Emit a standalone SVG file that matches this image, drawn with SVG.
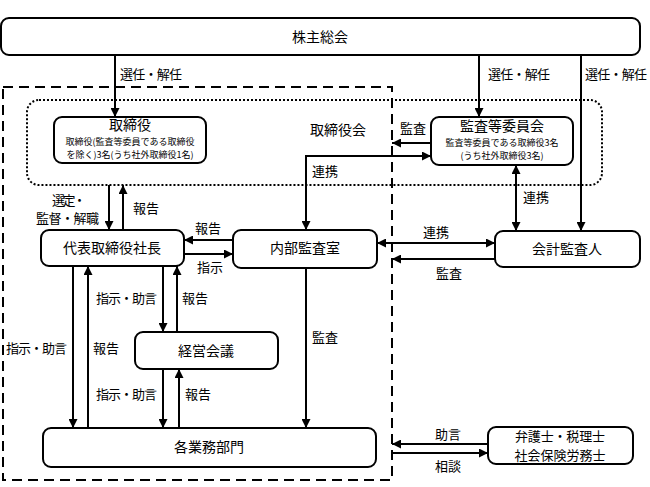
<svg xmlns="http://www.w3.org/2000/svg" width="650" height="487" viewBox="0 0 650 487">
<defs>
<marker id="ah" viewBox="0 0 10 10" refX="10" refY="5" markerWidth="10" markerHeight="9" markerUnits="userSpaceOnUse" orient="auto-start-reverse">
<path d="M0,0 L10,5 L0,10 Z" fill="#000"/>
</marker>
<style>
.box{fill:#fff;stroke:#000;stroke-width:2}
.t{font-family:"Noto Sans CJK JP","Noto Sans CJK SC",sans-serif;font-size:14px;fill:#000;text-anchor:middle}
.m{font-family:"Noto Sans CJK JP","Noto Sans CJK SC",sans-serif;font-size:13px;fill:#000;text-anchor:middle}
.s{font-family:"Noto Sans CJK JP","Noto Sans CJK SC",sans-serif;font-size:9px;fill:#000;text-anchor:middle}
.l{font-family:"Noto Sans CJK JP","Noto Sans CJK SC",sans-serif;font-size:13px;fill:#000;text-anchor:start}
.c{fill:none;stroke:#000;stroke-width:2}
.a{marker-end:url(#ah)}
.b{marker-start:url(#ah);marker-end:url(#ah)}
</style>
</defs>
<rect width="650" height="487" fill="#fff"/>
<g id="frames">
<rect x="3" y="87" width="389" height="393" fill="none" stroke="#000" stroke-width="2" stroke-dasharray="10 6"/>
<rect x="27" y="100" width="575" height="85" rx="12" fill="none" stroke="#000" stroke-width="2" stroke-dasharray="2 2"/>
<text class="t" x="338" y="135">取締役会</text>
</g>
<g id="n-kabunushi"><rect class="box" x="1" y="18" width="639" height="37" rx="8"/><text class="t" x="320" y="42">株主総会</text></g>
<g id="n-torishimariyaku"><rect class="box" x="54" y="117" width="152" height="46" rx="8"/><text class="t" x="130" y="130">取締役</text><text class="s" x="130" y="144.8">取締役(監査等委員である取締役</text><text class="s" x="130" y="158">を除く)3名(うち社外取締役1名)</text></g>
<g id="n-kansa-iinkai"><rect class="box" x="431" y="117" width="142" height="48" rx="8"/><text class="t" x="502" y="131">監査等委員会</text><text class="s" x="502" y="145.8">監査等委員である取締役3名</text><text class="s" x="502" y="159">(うち社外取締役3名)</text></g>
<g id="n-shacho"><rect class="box" x="41" y="230" width="143" height="36" rx="8"/><text class="t" x="112" y="253">代表取締役社長</text></g>
<g id="n-naibu"><rect class="box" x="233" y="230" width="144" height="38" rx="8"/><text class="t" x="305" y="253">内部監査室</text></g>
<g id="n-kaikei"><rect class="box" x="495" y="231" width="145" height="36" rx="8"/><text class="t" x="567" y="254">会計監査人</text></g>
<g id="n-keiei"><rect class="box" x="135" y="332" width="143" height="37" rx="8"/><text class="t" x="206" y="356">経営会議</text></g>
<g id="n-kakugyomu"><rect class="box" x="43" y="428" width="333" height="39" rx="8"/><text class="t" x="209" y="452">各業務部門</text></g>
<g id="n-bengoshi"><rect class="box" x="488" y="427" width="145" height="37" rx="8"/><text class="m" x="560" y="441" textLength="90" lengthAdjust="spacing">弁護士・税理士</text><text class="m" x="560" y="460">社会保険労務士</text></g>
<g id="connectors">
<line class="c a" x1="115" y1="55" x2="115" y2="117"/>
<line class="c a" x1="479" y1="55" x2="479" y2="117"/>
<line class="c a" x1="581" y1="55" x2="581" y2="231"/>
<line class="c a" x1="431" y1="143" x2="392" y2="143"/>
<path class="c b" d="M431,156 H306 V230"/>
<line class="c b" x1="516" y1="165" x2="516" y2="231"/>
<line class="c a" x1="109" y1="185" x2="109" y2="230"/>
<line class="c a" x1="123" y1="230" x2="123" y2="185"/>
<line class="c a" x1="233" y1="240" x2="184" y2="240"/>
<line class="c a" x1="184" y1="254" x2="233" y2="254"/>
<line class="c b" x1="377" y1="243" x2="495" y2="243"/>
<line class="c a" x1="495" y1="259" x2="392" y2="259"/>
<line class="c a" x1="163" y1="266" x2="163" y2="332"/>
<line class="c a" x1="177" y1="332" x2="177" y2="266"/>
<line class="c a" x1="163" y1="369" x2="163" y2="428"/>
<line class="c a" x1="179" y1="428" x2="179" y2="369"/>
<line class="c a" x1="73" y1="266" x2="73" y2="428"/>
<line class="c a" x1="88" y1="428" x2="88" y2="266"/>
<line class="c a" x1="306" y1="268" x2="306" y2="428"/>
<line class="c a" x1="488" y1="444" x2="392" y2="444"/>
<line class="c a" x1="392" y1="453" x2="488" y2="453"/>
<text class="l" x="120" y="79" textLength="62" lengthAdjust="spacing">選任・解任</text>
<text class="l" x="488" y="79" textLength="62" lengthAdjust="spacing">選任・解任</text>
<text class="l" x="585" y="79" textLength="62" lengthAdjust="spacing">選任・解任</text>
<text class="l" x="400" y="133">監査</text>
<text class="l" x="312" y="176">連携</text>
<text class="l" x="523" y="202">連携</text>
<text class="l" x="52" y="205" textLength="34" lengthAdjust="spacing">選定・</text>
<text class="l" x="36" y="223" textLength="63" lengthAdjust="spacing">監督・解職</text>
<text class="l" x="133" y="213">報告</text>
<text class="l" x="195" y="233">報告</text>
<text class="l" x="197" y="272">指示</text>
<text class="l" x="423" y="237">連携</text>
<text class="l" x="436" y="278">監査</text>
<text class="l" x="96" y="303" textLength="61" lengthAdjust="spacing">指示・助言</text>
<text class="l" x="182" y="303">報告</text>
<text class="l" x="6" y="353" textLength="61" lengthAdjust="spacing">指示・助言</text>
<text class="l" x="93" y="353">報告</text>
<text class="l" x="312" y="342">監査</text>
<text class="l" x="96" y="399" textLength="61" lengthAdjust="spacing">指示・助言</text>
<text class="l" x="185" y="399">報告</text>
<text class="l" x="435" y="439">助言</text>
<text class="l" x="435" y="471">相談</text>
</g>
</svg>
